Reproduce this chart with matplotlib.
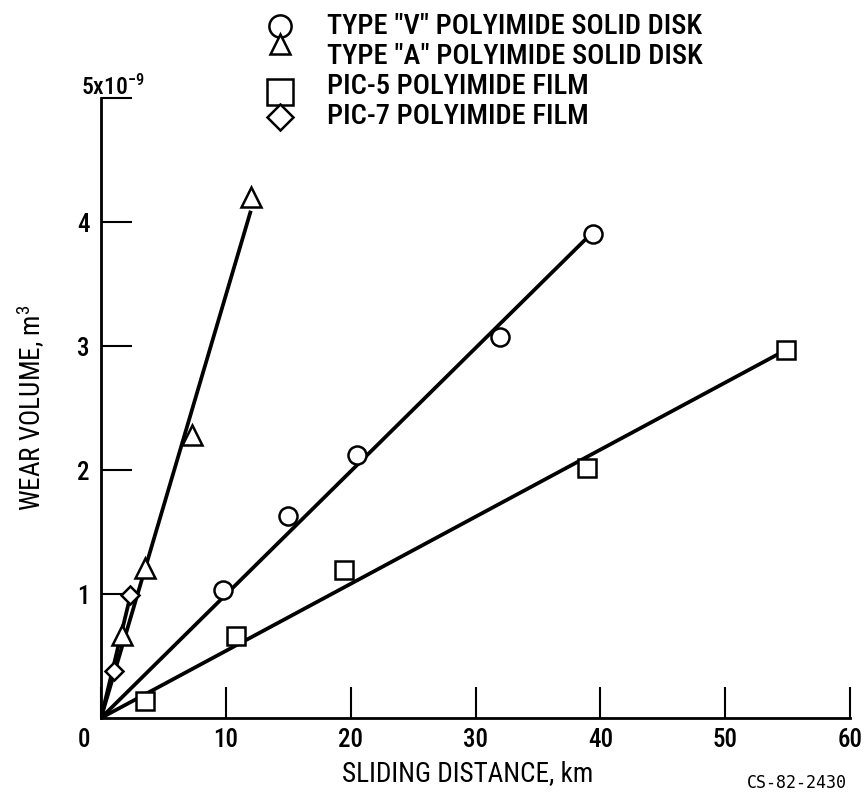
import numpy as np
import matplotlib.pyplot as plt
from matplotlib import font_manager
from matplotlib.lines import Line2D

# narrowest sans available for the lettering
fonts = {(f.name, f.stretch) for f in font_manager.fontManager.ttflist}
names = {n for n, s in fonts}
if 'Liberation Sans Narrow' in names:
    family, stretch = 'Liberation Sans Narrow', 'normal'
elif 'Roboto Condensed' in names:
    family, stretch = 'Roboto Condensed', 'normal'
elif ('DejaVu Sans', 'condensed') in fonts or ('DejaVu Sans', 'semi-condensed') in fonts:
    family, stretch = 'DejaVu Sans', 'condensed'
else:
    family, stretch = 'Roboto', 'normal'
plt.rcParams['font.family'] = [family, 'DejaVu Sans']
plt.rcParams['font.stretch'] = stretch
plt.rcParams['font.weight'] = 'medium'
plt.rcParams['mathtext.default'] = 'regular'

# sliding distance (km) vs wear volume (x1e-9 m^3)
v_dist = [9.75, 15.0, 20.5, 32.0, 39.4]
v_wear = [1.03, 1.63, 2.12, 3.07, 3.90]
a_dist = [1.7, 3.5, 7.3, 12.0]
a_wear = [0.67, 1.21, 2.28, 4.20]
pic5_dist = [3.5, 10.8, 19.5, 38.9, 54.9]
pic5_wear = [0.14, 0.66, 1.19, 2.02, 2.97]
pic7_dist = [1.05, 2.3]
pic7_wear = [0.38, 0.99]

labels = ['TYPE "V" POLYIMIDE SOLID DISK', 'TYPE "A" POLYIMIDE SOLID DISK',
          'PIC-5 POLYIMIDE FILM', 'PIC-7 POLYIMIDE FILM']
markers = ['o', '^', 's', 'D']
sizes = [13, 14, 13.5, 9.5]

W, H = 864, 794
fig = plt.figure(figsize=(W / 100, H / 100), dpi=100)
ax = fig.add_axes([101 / W, 76 / H, 749 / W, 620 / H])

series = [(v_dist, v_wear), (a_dist, a_wear), (pic5_dist, pic5_wear), (pic7_dist, pic7_wear)]
for (x, y), m, ms in zip(series, markers, sizes):
    x = np.array(x)
    y = np.array(y)
    # straight line through the origin, least squares
    k = (x * y).sum() / (x * x).sum()
    ax.plot([0, x.max()], [0, k * x.max()], color='black', lw=2.7, zorder=2,
            solid_capstyle='butt')
    ax.plot(x, y, linestyle='none', marker=m, ms=ms, mfc='white', mec='black',
            mew=1.8, zorder=3, clip_on=False)

ax.set_xlim(0, 60)
ax.set_ylim(0, 5)
ax.spines['top'].set_visible(False)
ax.spines['right'].set_visible(False)
for s in ['left', 'bottom']:
    ax.spines[s].set_linewidth(2.0)

ax.set_xticks([0, 10, 20, 30, 40, 50, 60])
ax.set_xticklabels(['', '10', '20', '30', '40', '50', '60'])
ax.set_yticks([1, 2, 3, 4, 5])
ax.set_yticklabels(['1', '2', '3', '4', ''])
ax.tick_params(direction='in', length=22, width=1.5, labelsize=18)
ax.tick_params(axis='x', pad=7)
ax.tick_params(axis='y', pad=8)

ax.annotate('0', xy=(0, 0), xytext=(-17, -10), textcoords='offset pixels',
            ha='center', va='top', fontsize=18)
ax.annotate('5x10$^{-9}$', xy=(0, 5), xytext=(-20, 3), textcoords='offset pixels',
            ha='left', va='baseline', fontsize=17)

ax.set_xlabel('SLIDING DISTANCE, km', fontsize=19.5)
ax.xaxis.set_label_coords(0.49, -0.068)
ax.set_ylabel('WEAR VOLUME, m$^3$', fontsize=19.5)
ax.yaxis.set_label_coords(-0.072, 0.5)

# key in the upper margin
key_y = [26, 44, 92, 117]
text_y = [26, 56, 87, 117]
key_sizes = [16, 14.5, 19, 13]
for m, ms, my, ty, lab in zip(markers, key_sizes, key_y, text_y, labels):
    fig.add_artist(Line2D([280 / W], [1 - my / H], marker=m, ms=ms, mfc='white',
                          mec='black', mew=1.8, linestyle='none',
                          transform=fig.transFigure))
    fig.text(327 / W, 1 - ty / H, lab, ha='left', va='center', fontsize=20.5)

fig.text(847 / W, 1 - 783 / H, 'CS-82-2430', ha='right', va='center',
         fontsize=12, family='DejaVu Sans Mono')

fig.savefig('out.png', dpi=100)
